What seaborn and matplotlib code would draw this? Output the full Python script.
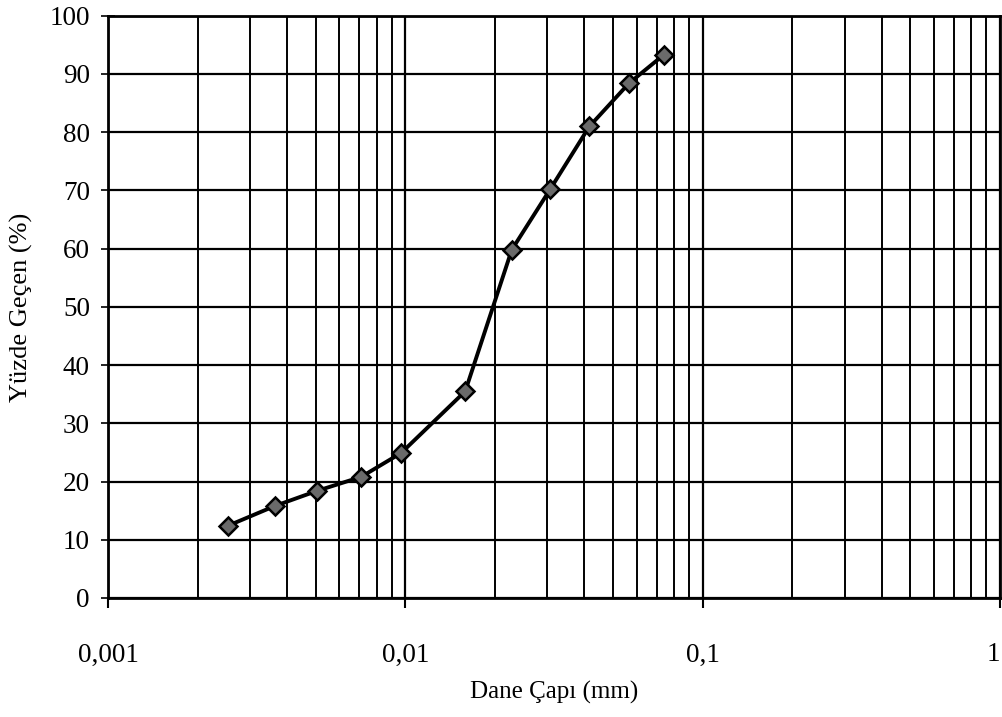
import matplotlib
matplotlib.use("Agg")
import matplotlib.pyplot as plt
import matplotlib.ticker as mticker
import seaborn as sns
import pandas as pd
import numpy as np

# Data (grain size distribution)
grain_diameter_mm = [0.00253, 0.00364, 0.00505, 0.0071, 0.00968, 0.0159,
                     0.0228, 0.0307, 0.0416, 0.0565, 0.074]
percent_passing = [12.4, 15.8, 18.4, 20.8, 24.9, 35.5,
                   59.8, 70.2, 81.0, 88.4, 93.3]

x_ticks = [0.001, 0.01, 0.1, 1]
x_tick_labels = ["0,001", "0,01", "0,1", "1"]
y_ticks = [0, 10, 20, 30, 40, 50, 60, 70, 80, 90, 100]

x_label = "Dane Çapı (mm)"
y_label = "Yüzde Geçen (%)"

df = pd.DataFrame({"d": grain_diameter_mm, "p": percent_passing})

sns.set_theme(style="white")
plt.rcParams["font.family"] = ["Liberation Serif", "DejaVu Serif"]

fig = plt.figure(figsize=(10.02, 7.17), dpi=100)
ax = fig.add_axes([0.1078, 0.166, 0.8902, 0.812])

sns.lineplot(data=df, x="d", y="p", ax=ax, color="black", linewidth=2.8,
             marker="D", markersize=9.5, markerfacecolor="#6a6a6a",
             markeredgecolor="black", markeredgewidth=1.8, zorder=5)

ax.set_xscale("log")
ax.set_xlim(0.001, 1)
ax.set_ylim(0, 100)

ax.xaxis.set_major_locator(mticker.FixedLocator(x_ticks))
ax.xaxis.set_major_formatter(mticker.FixedFormatter(x_tick_labels))
ax.xaxis.set_minor_locator(mticker.LogLocator(base=10, subs=np.arange(2, 10)))
ax.xaxis.set_minor_formatter(mticker.NullFormatter())
ax.yaxis.set_major_locator(mticker.FixedLocator(y_ticks))

ax.grid(True, which="major", axis="both", color="black", linewidth=1.6)
ax.grid(True, which="minor", axis="x", color="black", linewidth=1.4)

ax.tick_params(axis="x", which="major", direction="out", length=7, width=1.5,
               color="black", pad=25, labelsize=19.5, labelcolor="black", bottom=True)
ax.tick_params(axis="x", which="minor", length=0)
ax.tick_params(axis="y", which="major", direction="inout", length=10, width=1.2,
               color="black", pad=8, labelsize=19.5, labelcolor="black", left=True)

# keep the last x label ("1") inside the figure edge
ax.figure.canvas.draw()
last = ax.get_xticklabels()[-1]
last.set_horizontalalignment("right")

for s in ax.spines.values():
    s.set_visible(True)
    s.set_color("black")
    s.set_linewidth(2.0)

ax.set_xlabel(x_label, fontsize=18, color="black", labelpad=10)
ax.set_ylabel(y_label, fontsize=19, color="black", labelpad=12)

fig.savefig("out.png", dpi=100)
